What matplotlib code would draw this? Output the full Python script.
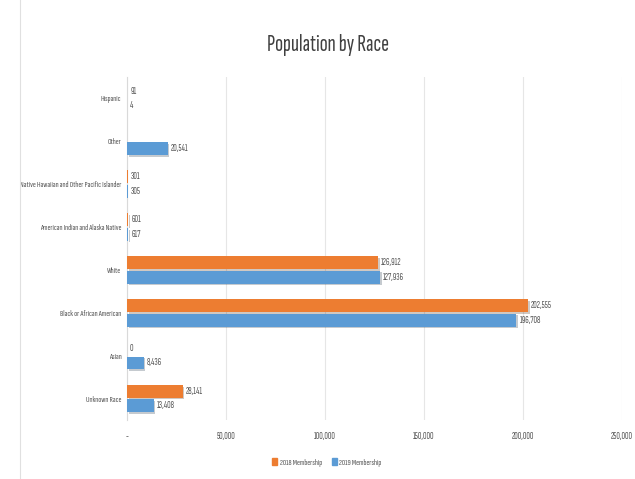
import matplotlib
matplotlib.use("Agg")
import matplotlib.pyplot as plt
import numpy as np
import matplotlib.patheffects as pe
from matplotlib.patches import Patch
from matplotlib import font_manager
from matplotlib.textpath import TextPath
from matplotlib.font_manager import FontProperties

categories = ["Unknown Race", "Asian", "Black or African American", "White",
              "American Indian and Alaska Native",
              "Native Hawaiian and Other Pacific Islander", "Other", "Hispanic"]
m2018 = [28141, 0, 202555, 126912, 601, 301, np.nan, 91]
m2019 = [13408, 8436, 196708, 127936, 617, 305, 20541, 4]
xticks = [0, 50000, 100000, 150000, 200000, 250000]
xticklabels = ["-", "50,000", "100,000", "150,000", "200,000", "250,000"]
title = "Population by Race"

names = {f.name for f in font_manager.fontManager.ttflist}
candidates = ["Sofia Sans Extra Condensed", "Saira ExtraCondensed",
              "Fira Sans Extra Condensed", "Barlow Condensed", "Roboto Condensed",
              "PT Sans Narrow", "DejaVu Sans"]
avail = [c for c in candidates if c in names]

def width_at(fam, s, size, weight="normal"):
    fp = FontProperties(family=fam, size=size, weight=weight)
    tp = TextPath((0, 0), s, prop=fp)
    ext = tp.get_extents()
    return ext.width * 100 / 72.0  # pixels at dpi 100

longlab = "Native Hawaiian and Other Pacific Islander"
fam = min(avail, key=lambda f: width_at(f, longlab, 10))
fs = 10 * 101 / width_at(fam, longlab, 10)
vfs = fs * 1.12
tfs = 10 * 120 / width_at(fam, title, 10, "bold")
plt.rcParams["font.family"] = [fam, "DejaVu Sans"]

c18 = "#ED7D31"
c19 = "#5B9BD5"
txt = "#595959"

fig = plt.figure(figsize=(6.35, 4.79), dpi=100)
ax = fig.add_axes([0.2, 0.1232, 0.7795, 0.716])

y = np.arange(len(categories))
h = 0.3
shadow = [pe.SimplePatchShadow(offset=(1.2, -1.2), alpha=0.25), pe.Normal()]
b18 = ax.barh(y + h / 2 + 0.02, m2018, height=h, color=c18, zorder=3)
b19 = ax.barh(y - h / 2 - 0.02, m2019, height=h, color=c19, zorder=3)
for b in list(b18) + list(b19):
    b.set_path_effects(shadow)

def fmt(v):
    return f"{int(v):,}"

for yi, v in zip(y + h / 2 + 0.02, m2018):
    if not np.isnan(v):
        ax.text(v + 1500, yi, fmt(v), va="center", ha="left", fontsize=vfs, color=txt)
for yi, v in zip(y - h / 2 - 0.02, m2019):
    if not np.isnan(v):
        ax.text(v + 1500, yi, fmt(v), va="center", ha="left", fontsize=vfs, color=txt)

ax.set_xlim(0, 250000)
ax.set_ylim(-0.5, len(categories) - 0.5)
ax.set_yticks(y)
ax.set_yticklabels(categories, fontsize=fs, color=txt)
ax.set_xticks(xticks)
ax.set_xticklabels(xticklabels, fontsize=vfs, color=txt)
ax.tick_params(axis="both", length=0, pad=4)
ax.tick_params(axis="x", pad=9)
ax.grid(axis="x", color="#E6E6E6", linewidth=0.8, zorder=0)
for s in ["top", "right", "bottom"]:
    ax.spines[s].set_visible(False)
ax.spines["left"].set_color("#D9D9D9")
ax.spines["left"].set_linewidth(0.8)

fig.text(0.517, 0.907, title, ha="center", va="center",
         fontsize=tfs, color="#404040", fontweight="bold")

handles = [Patch(color=c18, label="2018 Membership"), Patch(color=c19, label="2019 Membership")]
fig.legend(handles=handles, loc="center", bbox_to_anchor=(0.515, 0.035),
           ncol=2, frameon=False, fontsize=fs, handlelength=0.5, handleheight=0.9,
           handletextpad=0.3, columnspacing=1.2, labelcolor=txt)

fig.add_artist(plt.Line2D([0.0315, 0.0315], [0, 1], transform=fig.transFigure,
                          color="#E0E0E0", linewidth=0.8))

fig.savefig("out.png", dpi=100)
